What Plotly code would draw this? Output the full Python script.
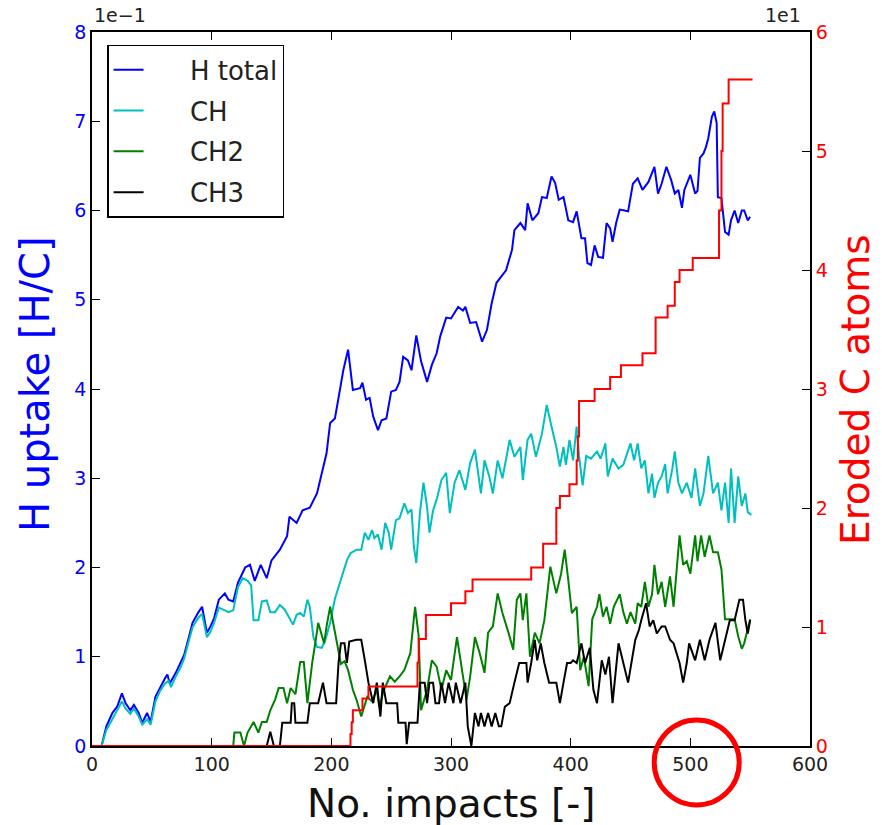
import plotly.graph_objects as go

# ---- H uptake per impact (H/C) ----
h_total_x = [8, 12, 17, 21, 25, 28, 32, 35, 39, 42,
             46, 49, 53, 57, 61, 63, 65, 70, 74, 77,
             81, 84, 89, 92, 96, 99, 102, 106, 111, 114,
             118, 122, 128, 132, 136, 141, 146, 150, 157, 163,
             165, 171, 176, 182, 188, 192, 196, 199, 203, 206,
             210, 214, 218, 224, 226, 229, 232, 235, 239, 242,
             246, 250, 254, 257, 260, 264, 267, 271, 275, 280,
             284, 288, 291, 296, 300, 306, 310, 312, 316, 321,
             326, 330, 334, 338, 342, 346, 351, 353, 358, 362,
             364, 368, 373, 376, 380, 384, 387, 390, 394, 398,
             402, 405, 409, 412, 414, 417, 420, 423, 427, 430,
             433, 435, 438, 441, 445, 448, 452, 456, 460, 465,
             470, 473, 476, 480, 484, 487, 490, 493, 495, 500,
             504, 506, 508, 511, 513, 515, 518, 520, 522, 523,
             526, 529, 532, 534, 537, 540, 543, 545, 548, 550]
h_total = [0, 0.022, 0.037, 0.044, 0.059, 0.048, 0.040, 0.046, 0.037, 0.026,
           0.037, 0.027, 0.055, 0.066, 0.076, 0.080, 0.070, 0.082, 0.093, 0.102,
           0.122, 0.138, 0.150, 0.156, 0.127, 0.134, 0.143, 0.164, 0.171, 0.164,
           0.162, 0.183, 0.200, 0.203, 0.185, 0.203, 0.188, 0.208, 0.220, 0.235,
           0.257, 0.250, 0.264, 0.267, 0.283, 0.306, 0.328, 0.362, 0.367, 0.390,
           0.421, 0.444, 0.399, 0.401, 0.407, 0.388, 0.390, 0.369, 0.354, 0.365,
           0.367, 0.397, 0.399, 0.408, 0.436, 0.432, 0.421, 0.460, 0.431, 0.408,
           0.427, 0.440, 0.459, 0.480, 0.479, 0.492, 0.488, 0.492, 0.474, 0.475,
           0.453, 0.466, 0.496, 0.519, 0.526, 0.533, 0.556, 0.578, 0.586, 0.578,
           0.608, 0.589, 0.597, 0.615, 0.614, 0.638, 0.631, 0.612, 0.615, 0.589,
           0.587, 0.599, 0.569, 0.569, 0.541, 0.539, 0.561, 0.548, 0.547, 0.586,
           0.580, 0.565, 0.586, 0.601, 0.600, 0.599, 0.630, 0.636, 0.623, 0.632,
           0.649, 0.619, 0.630, 0.649, 0.634, 0.619, 0.623, 0.603, 0.623, 0.640,
           0.619, 0.622, 0.659, 0.664, 0.671, 0.681, 0.705, 0.711, 0.698, 0.615,
           0.614, 0.576, 0.573, 0.589, 0.600, 0.586, 0.600, 0.600, 0.589, 0.593]

ch_x = [8, 12, 17, 21, 25, 28, 32, 35, 39, 42,
        46, 49, 53, 57, 61, 64, 66, 70, 74, 77,
        81, 84, 89, 92, 96, 99, 102, 106, 111, 114,
        118, 122, 126, 130, 133, 135, 139, 142, 146, 149,
        153, 157, 161, 166, 168, 171, 174, 177, 180, 182,
        185, 188, 192, 195, 199, 203, 208, 213, 216, 221,
        225, 228, 231, 234, 236, 239, 242, 245, 248, 250,
        254, 257, 261, 264, 267, 269, 271, 274, 277, 280,
        282, 285, 288, 292, 296, 299, 303, 307, 312, 316,
        320, 323, 325, 328, 332, 335, 339, 343, 349, 353,
        358, 360, 364, 367, 371, 376, 380, 384, 388, 391,
        394, 396, 399, 402, 405, 407, 410, 413, 417, 422,
        425, 429, 431, 435, 440, 444, 450, 453, 456, 459,
        462, 465, 468, 470, 473, 476, 479, 481, 485, 487,
        490, 493, 497, 501, 504, 508, 511, 515, 519, 523,
        526, 529, 532, 534, 537, 540, 543, 546, 548, 551]
ch = [0, 0.018, 0.030, 0.040, 0.050, 0.042, 0.036, 0.042, 0.033, 0.024,
      0.030, 0.024, 0.050, 0.062, 0.070, 0.073, 0.066, 0.078, 0.088, 0.098,
      0.118, 0.133, 0.144, 0.148, 0.122, 0.128, 0.138, 0.155, 0.152, 0.150,
      0.152, 0.178, 0.188, 0.185, 0.180, 0.141, 0.141, 0.162, 0.163, 0.150,
      0.150, 0.158, 0.153, 0.141, 0.136, 0.147, 0.149, 0.145, 0.164, 0.156,
      0.122, 0.111, 0.110, 0.119, 0.138, 0.165, 0.186, 0.208, 0.216, 0.220,
      0.220, 0.239, 0.231, 0.242, 0.233, 0.237, 0.220, 0.250, 0.239, 0.220,
      0.253, 0.255, 0.272, 0.261, 0.265, 0.223, 0.205, 0.261, 0.295, 0.268,
      0.239, 0.264, 0.276, 0.298, 0.306, 0.261, 0.295, 0.309, 0.287, 0.317,
      0.332, 0.302, 0.283, 0.320, 0.302, 0.283, 0.320, 0.300, 0.343, 0.324,
      0.335, 0.298, 0.343, 0.350, 0.324, 0.350, 0.382, 0.358, 0.335, 0.313,
      0.335, 0.315, 0.343, 0.320, 0.358, 0.325, 0.292, 0.325, 0.322, 0.330,
      0.322, 0.339, 0.302, 0.322, 0.311, 0.315, 0.339, 0.320, 0.339, 0.311,
      0.320, 0.283, 0.305, 0.278, 0.295, 0.302, 0.316, 0.283, 0.311, 0.330,
      0.295, 0.283, 0.295, 0.278, 0.311, 0.269, 0.283, 0.325, 0.283, 0.295,
      0.264, 0.295, 0.250, 0.311, 0.250, 0.302, 0.269, 0.283, 0.262, 0.259]

ch2_x = [118, 119, 124, 127, 130, 135, 139, 142, 146, 149,
         153, 156, 160, 163, 166, 170, 174, 177, 180, 184,
         187, 189, 194, 196, 199, 202, 205, 208, 211, 214,
         218, 221, 225, 230, 234, 238, 240, 244, 249, 253,
         257, 261, 266, 270, 273, 275, 280, 284, 288, 292,
         296, 300, 305, 309, 313, 316, 320, 324, 328, 331,
         335, 339, 343, 348, 352, 355, 358, 360, 363, 366,
         370, 374, 378, 383, 385, 388, 392, 395, 398, 401,
         405, 408, 411, 415, 418, 422, 424, 427, 430, 433,
         436, 441, 444, 447, 450, 454, 456, 459, 462, 465,
         468, 470, 473, 476, 479, 483, 486, 488, 491, 494,
         497, 500, 504, 506, 509, 512, 516, 519, 523, 526,
         529, 533, 537, 540, 543, 545, 548, 550]
ch2 = [0, 0.015, 0.015, 0, 0.015, 0.027, 0.015, 0.027, 0.027, 0.040,
       0.052, 0.065, 0.065, 0.048, 0.065, 0.058, 0.094, 0.094, 0.048, 0.093,
       0.119, 0.138, 0.115, 0.134, 0.156, 0.134, 0.115, 0.092, 0.095, 0.085,
       0.063, 0.052, 0.033, 0.055, 0.050, 0.063, 0.044, 0.063, 0.078, 0.072,
       0.078, 0.085, 0.104, 0.156, 0.123, 0.040, 0.063, 0.096, 0.089, 0.063,
       0.085, 0.074, 0.122, 0.089, 0.052, 0.078, 0.122, 0.104, 0.082, 0.127,
       0.134, 0.171, 0.149, 0.127, 0.108, 0.164, 0.171, 0.141, 0.171, 0.100,
       0.127, 0.115, 0.141, 0.201, 0.190, 0.171, 0.193, 0.220, 0.186, 0.149,
       0.156, 0.085, 0.100, 0.067, 0.142, 0.156, 0.170, 0.145, 0.156, 0.137,
       0.156, 0.170, 0.150, 0.137, 0.150, 0.137, 0.160, 0.156, 0.184, 0.156,
       0.170, 0.203, 0.170, 0.184, 0.156, 0.190, 0.156, 0.190, 0.236, 0.203,
       0.207, 0.193, 0.236, 0.207, 0.236, 0.212, 0.236, 0.217, 0.217, 0.198,
       0.142, 0.142, 0.142, 0.123, 0.109, 0.115, 0.132, 0.142]

ch3_x = [146, 149, 152, 157, 159, 166, 167, 169, 170, 180,
         182, 189, 193, 196, 204, 206, 208, 211, 213, 215,
         221, 225, 228, 231, 235, 238, 241, 243, 246, 255,
         256, 262, 263, 265, 272, 274, 278, 280, 282, 285,
         287, 290, 292, 295, 298, 302, 304, 308, 312, 314,
         317, 320, 323, 325, 328, 331, 334, 337, 340, 342,
         345, 349, 353, 357, 363, 364, 367, 370, 372, 375,
         378, 382, 388, 391, 394, 397, 400, 402, 405, 409,
         412, 416, 419, 422, 426, 429, 432, 435, 440, 444,
         448, 454, 457, 459, 463, 466, 469, 472, 476, 479,
         483, 486, 491, 494, 497, 499, 504, 508, 512, 516,
         521, 525, 529, 533, 537, 541, 544, 546, 548, 550]
ch3 = [0, 0.016, 0, 0, 0.026, 0.026, 0.048, 0.048, 0.026, 0.026,
       0.048, 0.048, 0.071, 0.048, 0.048, 0.093, 0.115, 0.115, 0.093, 0.117,
       0.119, 0.119, 0.096, 0.071, 0.048, 0.071, 0.033, 0.071, 0.048, 0.048,
       0.026, 0.026, 0.002, 0.026, 0.026, 0.071, 0.071, 0.048, 0.071, 0.071,
       0.048, 0.048, 0.071, 0.048, 0.071, 0.048, 0.071, 0.048, 0.071, 0.022,
       0.000, 0.037, 0.022, 0.037, 0.022, 0.037, 0.022, 0.037, 0.022, 0.022,
       0.044, 0.048, 0.071, 0.093, 0.093, 0.071, 0.093, 0.119, 0.096, 0.115,
       0.093, 0.071, 0.071, 0.048, 0.071, 0.093, 0.093, 0.096, 0.093, 0.115,
       0.093, 0.110, 0.063, 0.048, 0.096, 0.080, 0.100, 0.048, 0.115, 0.093,
       0.071, 0.119, 0.130, 0.141, 0.160, 0.134, 0.141, 0.126, 0.134, 0.134,
       0.119, 0.115, 0.093, 0.071, 0.093, 0.115, 0.096, 0.119, 0.096, 0.119,
       0.138, 0.096, 0.119, 0.141, 0.141, 0.164, 0.164, 0.141, 0.126, 0.141]

# ---- cumulative eroded carbon atoms ----
eroded_x = [0, 215, 216, 217, 218, 226, 231, 272, 273, 279,
            300, 312, 318, 367, 377, 388, 391, 399, 405, 406,
            407, 420, 433, 442, 460, 471, 481, 487, 491, 502,
            522, 524, 526, 527, 532, 552]
eroded = [0, 0, 1, 2, 3, 4, 5, 7, 9, 11,
          12, 13, 14, 15, 17, 20, 21, 22, 24, 26,
          29, 30, 31, 32, 33, 36, 37, 39, 40, 41,
          41, 45, 50, 54, 56, 56]

# ---- axis ticks ----
x_ticks = [0, 100, 200, 300, 400, 500, 600]
left_ticks = [0, 0.1, 0.2, 0.3, 0.4, 0.5, 0.6, 0.7, 0.8]
left_tick_text = ["0", "1", "2", "3", "4", "5", "6", "7", "8"]
right_ticks = [0, 10, 20, 30, 40, 50, 60]
right_tick_text = ["0", "1", "2", "3", "4", "5", "6"]

FONT = "DejaVu Sans"
BLUE = "#0000ff"
CYAN = "#00bfbf"
GREEN = "#008000"
BLACK = "#000000"
RED = "#ff0000"
LW = 2
PAD = "\u00a0" * 5  # gap between legend line sample and label

fig = go.Figure()
series = [
    ("H total", h_total_x, h_total, BLUE),
    ("CH", ch_x, ch, CYAN),
    ("CH2", ch2_x, ch2, GREEN),
    ("CH3", ch3_x, ch3, BLACK),
]
for i, (name, xs, ys, col) in enumerate(series):
    fig.add_trace(go.Scatter(x=xs, y=ys, mode="lines", name=PAD + name,
                             legendgroup=f"g{i}",
                             line=dict(color=col, width=LW)))

fig.add_trace(go.Scatter(x=eroded_x, y=eroded, mode="lines", name="Eroded C",
                         yaxis="y2", showlegend=False,
                         line=dict(color=RED, width=LW, shape="hv")))

axis_common = dict(showgrid=False, zeroline=False, showline=True,
                   linecolor="black", linewidth=1.8, ticks="inside",
                   ticklen=8, tickwidth=1, tickcolor="black")

fig.update_layout(
    width=882, height=825,
    margin=dict(l=92, r=72, t=32, b=79),
    paper_bgcolor="white", plot_bgcolor="white",
    font=dict(family=FONT, size=19, color="black"),
    xaxis=dict(range=[0, 600], tickvals=x_ticks, mirror="ticks",
               tickfont=dict(size=19, color="#222222"), **axis_common),
    yaxis=dict(range=[0, 0.8], tickvals=left_ticks, ticktext=left_tick_text,
               tickfont=dict(size=19, color=BLUE), **axis_common),
    yaxis2=dict(range=[0, 60], tickvals=right_ticks, ticktext=right_tick_text,
                overlaying="y", side="right",
                tickfont=dict(size=19, color=RED), **axis_common),
    legend=dict(x=0.021, y=0.982, xanchor="left", yanchor="top",
                bgcolor="white", bordercolor="black", borderwidth=1.5,
                font=dict(family=FONT, size=26, color="#222222"),
                traceorder="grouped", tracegroupgap=4, itemwidth=30),
    showlegend=True,
)

# Axis titles and scale markers
fig.add_annotation(text="No. impacts [-]", xref="paper", yref="paper",
                   x=0.5, y=-0.08, xanchor="center", yanchor="middle",
                   showarrow=False, font=dict(family=FONT, size=39, color="#111111"))
fig.add_annotation(text="H uptake [H/C]", xref="paper", yref="paper",
                   x=-0.0794, y=0.507, textangle=-90, xanchor="center", yanchor="middle",
                   showarrow=False, font=dict(family=FONT, size=40, color=BLUE))
fig.add_annotation(text="Eroded C atoms", xref="paper", yref="paper",
                   x=1.063, y=0.499, textangle=-90, xanchor="center", yanchor="middle",
                   showarrow=False, font=dict(family=FONT, size=39, color=RED))
fig.add_annotation(text="1e\u22121", xref="paper", yref="paper",
                   x=0, y=1.005, xanchor="left", yanchor="bottom",
                   showarrow=False, font=dict(family=FONT, size=19, color="#222222"))
fig.add_annotation(text="1e1", xref="paper", yref="paper",
                   x=0.99, y=1.005, xanchor="right", yanchor="bottom",
                   showarrow=False, font=dict(family=FONT, size=19, color="#222222"))

# Highlight ring around the 500-impact tick
fig.add_shape(type="circle", xref="paper", yref="paper",
              x0=0.783, x1=0.9014, y0=-0.0826, y1=0.0364,
              line=dict(color=RED, width=5))

fig.write_html("out.html")
